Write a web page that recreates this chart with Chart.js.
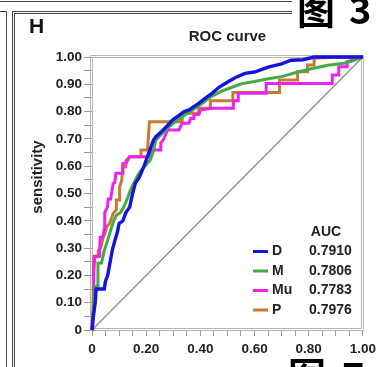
<!DOCTYPE html>
<html>
<head>
<meta charset="utf-8">
<title>ROC curve</title>
<script src="https://cdn.jsdelivr.net/npm/chart.js@4.4.1/dist/chart.umd.min.js"></script>
<style>
    html, body { margin: 0; padding: 0; background: #fff; }
    #wrap { position: relative; width: 381px; height: 367px; overflow: hidden; }
    #roc { position: absolute; left: 0; top: 0; }
    .rule { position: absolute; background: #444; }
    .big { position: absolute; font-family: "Noto Sans CJK SC", sans-serif; font-weight: bold; font-size: 38px; line-height: 38px; color: #000; white-space: nowrap; }
    #panel { position: absolute; left: 29px; top: 14px; font: bold 21px "Liberation Sans", Arial, sans-serif; color: #111; }
</style>
</head>
<body>
<div id="wrap">
    <canvas id="roc" width="381" height="367"></canvas>
    <!-- bits of the surrounding page that were cropped in -->
    <div class="rule" style="left:0;top:1px;width:292px;height:1px;"></div>
    <div class="rule" style="left:0;top:11px;width:7px;height:1px;"></div>
    <div class="rule" style="left:6px;top:11px;width:1px;height:356px;"></div>
    <div class="rule" style="left:12px;top:11px;width:280px;height:1px;"></div>
    <div class="rule" style="left:14px;top:13px;width:278px;height:1px;"></div>
    <div class="rule" style="left:12px;top:11px;width:1px;height:356px;"></div>
    <div class="rule" style="left:14px;top:13px;width:1px;height:354px;"></div>
    <span class="big" style="left:297px;top:-11px;">图</span>
    <span class="big" style="left:349px;top:-11px;">3</span>
    <span class="big" style="left:288px;top:355px;">图</span>
    <span class="big" style="left:342px;top:355px;">7</span>
    <span id="panel">H</span>
</div>
<script>
// ROC data (1 - specificity, sensitivity)
const fprD = [0, 0.005, 0.012, 0.015, 0.045, 0.05, 0.058, 0.066, 0.075, 0.085, 0.094, 0.1, 0.114, 0.125, 0.139, 0.15, 0.16, 0.175, 0.191, 0.209, 0.227, 0.236, 0.26, 0.28, 0.297, 0.32, 0.34, 0.358, 0.394, 0.42, 0.443, 0.47, 0.504, 0.53, 0.565, 0.6, 0.65, 0.7, 0.735, 0.78, 0.82, 1.0];
const tprD = [0, 0.05, 0.1, 0.15, 0.15, 0.18, 0.2, 0.244, 0.293, 0.33, 0.36, 0.39, 0.4, 0.43, 0.45, 0.5, 0.537, 0.56, 0.598, 0.647, 0.696, 0.708, 0.73, 0.75, 0.769, 0.785, 0.8, 0.806, 0.83, 0.85, 0.867, 0.89, 0.91, 0.925, 0.94, 0.945, 0.963, 0.975, 0.988, 0.99, 1.0, 1.0];

const fprM = [0, 0.005, 0.01, 0.02, 0.022, 0.035, 0.045, 0.055, 0.069, 0.08, 0.09, 0.105, 0.118, 0.13, 0.142, 0.155, 0.173, 0.195, 0.215, 0.225, 0.236, 0.26, 0.285, 0.31, 0.333, 0.37, 0.406, 0.44, 0.479, 0.52, 0.552, 0.6, 0.65, 0.7, 0.76, 0.81, 0.87, 0.93, 0.96, 1.0];
const tprM = [0, 0.08, 0.16, 0.16, 0.245, 0.245, 0.29, 0.32, 0.366, 0.4, 0.42, 0.43, 0.452, 0.48, 0.513, 0.54, 0.574, 0.6, 0.623, 0.65, 0.696, 0.72, 0.745, 0.765, 0.781, 0.805, 0.83, 0.855, 0.875, 0.89, 0.902, 0.91, 0.92, 0.928, 0.945, 0.957, 0.97, 0.977, 0.985, 1.0];

const fprMu = [0, 0.004, 0.006, 0.01, 0.028, 0.03, 0.04, 0.045, 0.047, 0.057, 0.06, 0.069, 0.072, 0.078, 0.084, 0.088, 0.114, 0.114, 0.125, 0.139, 0.212, 0.218, 0.254, 0.254, 0.265, 0.279, 0.321, 0.333, 0.358, 0.364, 0.376, 0.376, 0.395, 0.4, 0.443, 0.522, 0.522, 0.54, 0.54, 0.643, 0.643, 0.887, 0.887, 0.911, 0.911, 0.942, 0.942, 1.0];
const tprMu = [0, 0.06, 0.2, 0.27, 0.27, 0.34, 0.34, 0.37, 0.43, 0.45, 0.48, 0.48, 0.5, 0.537, 0.54, 0.574, 0.574, 0.61, 0.61, 0.635, 0.635, 0.659, 0.659, 0.684, 0.7, 0.733, 0.733, 0.757, 0.757, 0.775, 0.775, 0.788, 0.79, 0.806, 0.812, 0.812, 0.84, 0.84, 0.867, 0.867, 0.903, 0.903, 0.934, 0.934, 0.964, 0.964, 0.983, 1.0];

const fprP = [0, 0.003, 0.005, 0.006, 0.023, 0.023, 0.03, 0.035, 0.041, 0.047, 0.054, 0.065, 0.078, 0.09, 0.09, 0.1, 0.102, 0.11, 0.114, 0.125, 0.125, 0.139, 0.181, 0.181, 0.205, 0.212, 0.333, 0.333, 0.394, 0.394, 0.437, 0.437, 0.52, 0.52, 0.692, 0.692, 0.759, 0.759, 0.796, 0.796, 0.82, 0.82, 0.85, 1.0];
const tprP = [0, 0.05, 0.18, 0.268, 0.268, 0.29, 0.3, 0.31, 0.342, 0.35, 0.378, 0.39, 0.427, 0.44, 0.476, 0.476, 0.525, 0.55, 0.598, 0.598, 0.62, 0.635, 0.635, 0.659, 0.659, 0.763, 0.763, 0.794, 0.794, 0.812, 0.812, 0.84, 0.84, 0.87, 0.87, 0.916, 0.916, 0.946, 0.946, 0.971, 0.971, 0.995, 0.997, 1.0];

const chanceX = [0, 1];
const chanceY = [0, 1];

const seriesNames = ['D', 'M', 'Mu', 'P'];
const seriesColors = ['#1414dc', '#44aa44', '#ee22ee', '#c87a30'];
const aucValues = ['0.7910', '0.7806', '0.7783', '0.7976'];

const xTickLabels = ['0', '0.20', '0.40', '0.60', '0.80', '1.00'];
const yTickLabels = ['0', '0.10', '0.20', '0.30', '0.40', '0.50', '0.60', '0.70', '0.80', '0.90', '1.00'];

const FONT = '"Liberation Sans", Arial, sans-serif';

function toPoints(xs, ys) {
    return xs.map((x, i) => ({ x: x, y: ys[i] }));
}

// label only the ticks that sit on a major step
function majorLabel(labels, step) {
    return function (value) {
        const k = Math.round(value / step);
        if (Math.abs(k * step - value) > 1e-6) return '';
        return labels[k] !== undefined ? labels[k] : '';
    };
}

const curveData = [
    [fprD, tprD],
    [fprM, tprM],
    [fprMu, tprMu],
    [fprP, tprP]
];

const datasets = seriesNames.map((name, i) => ({
    label: name,
    data: toPoints(curveData[i][0], curveData[i][1]),
    borderColor: seriesColors[i],
    borderWidth: i === 0 ? 3.4 : 3,
    pointRadius: 0,
    showLine: true,
    fill: false,
    tension: 0,
    clip: 4
}));
datasets.push({
    label: 'chance',
    data: toPoints(chanceX, chanceY),
    borderColor: '#8a8a8a',
    borderWidth: 1.2,
    pointRadius: 0,
    showLine: true,
    clip: 4
});

// double grey frame round the plot, drawn under the curves
const framePlugin = {
    id: 'frame',
    beforeDatasetsDraw(chart) {
        const a = chart.chartArea;
        const ctx = chart.ctx;
        ctx.save();
        ctx.strokeStyle = '#b4b4b4';
        ctx.lineWidth = 1;
        ctx.strokeRect(a.left - 1.5, a.top - 1.5, a.right - a.left + 2, a.bottom - a.top + 2);
        ctx.strokeRect(a.left + 0.5, a.top + 0.5, a.right - a.left - 2, a.bottom - a.top - 2);
        ctx.restore();
    }
};

// y axis name and the AUC table
const notesPlugin = {
    id: 'notes',
    afterDraw(chart) {
        const ctx = chart.ctx;
        ctx.save();
        ctx.fillStyle = '#222';
        ctx.font = 'bold 15px ' + FONT;
        ctx.textAlign = 'center';
        ctx.textBaseline = 'middle';
        ctx.translate(38, 177);
        ctx.rotate(-Math.PI / 2);
        ctx.fillText('sensitivity', 0, 0);
        ctx.restore();

        ctx.save();
        ctx.font = 'bold 14px ' + FONT;
        ctx.fillStyle = '#222';
        ctx.textBaseline = 'middle';
        ctx.textAlign = 'center';
        ctx.fillText('AUC', 326, 232);
        const rowY = [251.5, 271, 290.5, 310];
        seriesNames.forEach((name, i) => {
            const y = rowY[i];
            ctx.strokeStyle = seriesColors[i];
            ctx.lineWidth = 3;
            ctx.beginPath();
            ctx.moveTo(253, y);
            ctx.lineTo(268, y);
            ctx.stroke();
            ctx.textAlign = 'left';
            ctx.fillText(name, 272, y);
            ctx.fillText(aucValues[i], 309, y);
        });
        ctx.restore();
    }
};

new Chart(document.getElementById('roc'), {
    type: 'scatter',
    data: { datasets: datasets },
    options: {
        responsive: false,
        animation: false,
        layout: { padding: { left: 0, right: 15, top: 0, bottom: 0 } },
        plugins: {
            legend: { display: false },
            tooltip: { enabled: false },
            title: {
                display: true,
                text: 'ROC curve',
                fullSize: false,
                color: '#222',
                font: { family: FONT, size: 15, weight: 'bold', lineHeight: 1.2 },
                padding: { top: 28, bottom: 11 }
            }
        },
        scales: {
            x: {
                type: 'linear',
                min: 0,
                max: 1,
                afterFit: (scale) => { scale.height = 37; },
                border: { display: false },
                grid: { drawOnChartArea: false, drawTicks: true, tickLength: 6, color: '#9a9a9a' },
                ticks: {
                    stepSize: 0.05,
                    autoSkip: false,
                    maxRotation: 0,
                    padding: 5,
                    color: '#222',
                    font: { family: FONT, size: 13.5, weight: 'bold' },
                    callback: majorLabel(xTickLabels, 0.2)
                }
            },
            y: {
                type: 'linear',
                min: 0,
                max: 1,
                afterFit: (scale) => { scale.width = 92; },
                border: { display: false },
                grid: { drawOnChartArea: false, drawTicks: true, tickLength: 8, color: '#9a9a9a' },
                ticks: {
                    stepSize: 0.05,
                    autoSkip: false,
                    padding: 2,
                    color: '#222',
                    font: { family: FONT, size: 13.5, weight: 'bold' },
                    callback: majorLabel(yTickLabels, 0.1)
                }
            }
        }
    },
    plugins: [framePlugin, notesPlugin]
});
</script>
</body>
</html>
